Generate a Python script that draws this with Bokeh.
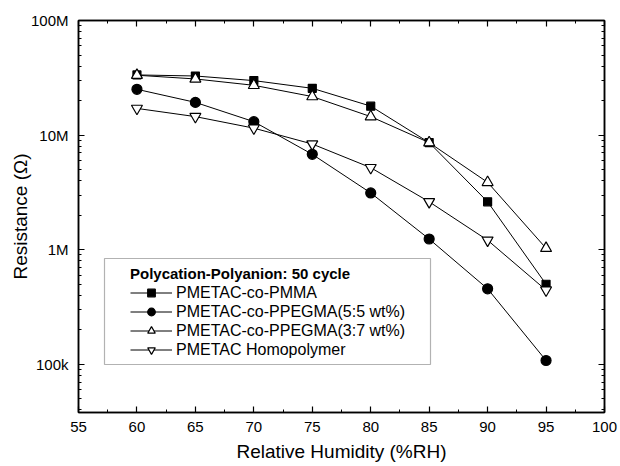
from bokeh.plotting import figure
from bokeh.models import (Legend, LegendItem, FixedTicker, LinearAxis, LogAxis,
                          SingleIntervalTicker, Range1d, BoxAnnotation,
                          CustomJSTickFormatter)
from bokeh.embed import file_html
from bokeh.resources import INLINE

# ---- data ----
humidity = [60, 65, 70, 75, 80, 85, 90, 95]
pmma = [33.5e6, 32.8e6, 29.9e6, 25.6e6, 17.9e6, 8.6e6, 2.62e6, 0.50e6]
ppegma_55 = [25.1e6, 19.3e6, 13.1e6, 6.8e6, 3.13e6, 1.24e6, 0.456e6, 0.108e6]
ppegma_37 = [33.3e6, 30.9e6, 27.2e6, 21.7e6, 14.5e6, 8.6e6, 3.87e6, 1.03e6]
homopolymer = [17.1e6, 14.5e6, 11.5e6, 8.36e6, 5.2e6, 2.62e6, 1.21e6, 0.444e6]

series_labels = ["PMETAC-co-PMMA", "PMETAC-co-PPEGMA(5:5 wt%)",
                 "PMETAC-co-PPEGMA(3:7 wt%)", "PMETAC Homopolymer"]
legend_title = "Polycation-Polyanion: 50 cycle"

y_ticks = [100000, 1000000, 10000000, 100000000]
y_tick_labels = ["100k", "1M", "10M", "100M"]
y_minor = [m * 10 ** e for e in range(4, 8) for m in range(2, 10)]

FONT = "Liberation Sans"

p = figure(width=620, height=466, y_axis_type="log",
           x_range=Range1d(55, 100), y_range=Range1d(3.8e4, 1e8),
           output_backend="svg", toolbar_location=None,
           min_border_left=78, min_border_right=16,
           min_border_top=20, min_border_bottom=54)
p.grid.visible = False
p.outline_line_color = "black"
p.outline_line_width = 1.5
p.background_fill_color = "white"
p.border_fill_color = "white"

xt = SingleIntervalTicker(interval=5, num_minor_ticks=2)
yt = FixedTicker(ticks=y_ticks, minor_ticks=y_minor)

def style(ax, labels=True):
    ax.axis_line_color = "black"
    ax.axis_line_width = 1.5
    ax.major_tick_in = 6
    ax.major_tick_out = 0
    ax.minor_tick_in = 3
    ax.minor_tick_out = 0
    ax.major_tick_line_color = "black"
    ax.minor_tick_line_color = "black"
    ax.major_tick_line_width = 1.2
    ax.minor_tick_line_width = 1
    if labels:
        ax.major_label_text_font = FONT
        ax.major_label_text_font_size = "15px"
        ax.major_label_text_color = "black"
        ax.axis_label_text_font = FONT
        ax.axis_label_text_font_size = "19px"
        ax.axis_label_text_font_style = "normal"
        ax.axis_label_text_color = "black"
    else:
        ax.formatter = CustomJSTickFormatter(code="return ''")
        ax.major_label_text_font_size = "1px"
        ax.major_label_standoff = 0

xa = p.xaxis[0]
xa.ticker = xt
xa.axis_label = "Relative Humidity (%RH)"
style(xa)
xa.major_label_standoff = 9
xa.axis_label_standoff = 6

ya = p.yaxis[0]
ya.ticker = yt
ya.major_label_overrides = dict(zip(y_ticks, y_tick_labels))
ya.axis_label = "Resistance (Ω)"
style(ya)
ya.major_label_standoff = 10
ya.axis_label_standoff = -3

top = LinearAxis(ticker=SingleIntervalTicker(interval=5, num_minor_ticks=2))
style(top, labels=False)
p.add_layout(top, "above")
right = LogAxis(ticker=FixedTicker(ticks=y_ticks, minor_ticks=y_minor))
style(right, labels=False)
p.add_layout(right, "right")

specs = [
    (pmma, "square", 8, "black"),
    (ppegma_55, "circle", 10, "black"),
    (ppegma_37, "triangle", 11, "white"),
    (homopolymer, "inverted_triangle", 11, "white"),
]
items = []
for (vals, marker, size, fill), lab in zip(specs, series_labels):
    lr = p.line(humidity, vals, line_color="black", line_width=1)
    sr = p.scatter(humidity, vals, marker=marker, size=size,
                   fill_color=fill, line_color="black", line_width=1.2)
    items.append(LegendItem(label=lab, renderers=[lr, sr]))

box = BoxAnnotation(left=104, right=430, top=258, bottom=364,
                    left_units="canvas", right_units="canvas",
                    top_units="canvas", bottom_units="canvas",
                    fill_color="white", fill_alpha=1.0,
                    line_color="black", line_width=1.2)
p.add_layout(box)

legend = Legend(items=items, location=(52, 53),
                title=legend_title, title_text_font=FONT,
                title_text_font_size="15px", title_text_font_style="bold",
                title_text_color="black", title_standoff=1,
                label_text_font=FONT, label_text_font_size="16px",
                label_text_color="black",
                glyph_width=42, glyph_height=19, label_height=19,
                spacing=0, padding=0, margin=0, label_standoff=4,
                border_line_color=None, background_fill_alpha=0)
p.add_layout(legend)

open("out.html", "w").write(file_html(p, INLINE))
